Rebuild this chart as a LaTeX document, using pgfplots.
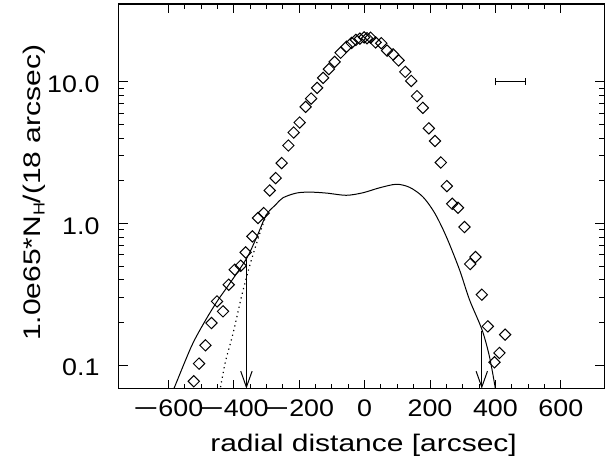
\documentclass[border=0pt]{standalone}
\usepackage{graphicx}
\usepackage{fontspec}
\setmainfont{Liberation Sans}[FakeStretch=1.12]
\newfontfamily\labfont{Liberation Sans}[FakeStretch=1.25]
\usepackage{pgfplots}
\pgfplotsset{compat=1.18}
\usetikzlibrary{arrows.meta}
\newcommand\mn{\scalebox{1.6}[1]{−}}

\begin{document}
\begin{tikzpicture}
\begin{axis}[
  scale only axis,
  width=243pt, height=192.5pt,
  ymode=log,
  xmin=-751, xmax=733,
  ymin=0.0681, ymax=35.5,
  axis line style={line width=0.6pt},
  every tick/.style={black, line width=0.5pt},
  major tick length=4.5pt,
  minor tick length=2.5pt,
  xtick={-600,-400,-200,0,200,400,600},
  xticklabels={{\mn600},{\mn400},{\mn200},0,200,400,600},
  minor x tick num=3,
  ytick={0.1,1,10},
  yticklabels={0.1,1.0,10.0},
  tick label style={font=\fontsize{12}{14}\selectfont},
  xticklabel style={anchor=base, yshift=-13.8pt},
  yticklabel style={anchor=base east, inner sep=0pt, xshift=-9.5pt, yshift=-5.3pt},
  xlabel={radial distance [arcsec]},
  ylabel={1.0e65*N$_{\mathrm{H}}$/(18 arcsec)},
  label style={font=\labfont\fontsize{12}{14}\selectfont},
  xlabel style={at={(axis description cs:0.504,-0.1626)}, anchor=base},
  ylabel style={at={(axis description cs:-0.1605,0.509)}, anchor=base},
]

% diamonds: observed profile
\addplot[only marks, mark=square, mark size=2pt,
  mark options={rotate=45, line width=0.5pt, fill=none}]
coordinates {
  (-522.1,0.0767) (-506.0,0.1023) (-486.4,0.1377) (-468.1,0.198)
  (-451.0,0.2814) (-432.7,0.2393) (-415.3,0.3693) (-396.9,0.4713)
  (-378.6,0.5029) (-363.4,0.6243) (-342.9,0.8096) (-325.8,1.092)
  (-308.4,1.184) (-290.1,1.710) (-271.8,2.091) (-253.4,2.669)
  (-233.0,3.553) (-216.8,4.387) (-198.5,5.163) (-180.2,6.662)
  (-163.4,7.625) (-145.0,9.07) (-126.7,10.67) (-109.0,12.31)
  (-91.6,13.84) (-73.3,16.07) (-55.0,17.72) (-39.7,18.85)
  (-26.6,19.79) (-14.4,20.21) (-1.5,20.61) (7.6,20.34)
  (18.3,20.51) (33.6,19.0) (51.0,18.76) (68.7,16.63)
  (87.0,15.64) (103.8,14.18) (124.3,11.77) (142.6,10.16)
  (160.3,7.93) (178.0,6.554) (196.3,4.697) (215.3,3.822)
  (233.0,2.695) (251.3,1.836) (267.8,1.377) (285.5,1.291)
  (305.3,0.943) (322.7,0.517) (338.9,0.579) (358.2,0.314)
  (376.5,0.1875) (396.9,0.1045) (412.2,0.1217) (429.6,0.1639)
};

% solid model curve
\addplot[black, line width=0.5pt, smooth, tension=0.5] coordinates {
  (-598.5,0.0561) (-583.2,0.0678) (-529.2,0.1355) (-490.0,0.200)
  (-451.0,0.281) (-415.0,0.369) (-361.2,0.5633) (-328.9,0.8096)
  (-300.2,1.152) (-271.8,1.355) (-249.5,1.518) (-208.5,1.639)
  (-167.9,1.665) (-116.9,1.639) (-55.9,1.581) (-5.2,1.647)
  (45.8,1.786) (96.8,1.891) (137.4,1.80) (178.0,1.543)
  (213.7,1.19) (249.5,0.8096) (290.1,0.4713) (320.6,0.2893)
  (358.8,0.1778) (381.7,0.1146) (400.0,0.0678) (406.1,0.0561)
};

% dotted curve
\addplot[black, line width=0.6pt, dash pattern=on 0.6pt off 1.8pt, smooth] coordinates {
  (-300.2,1.152) (-314.5,0.932) (-326.7,0.767) (-351.1,0.503)
  (-375.6,0.309) (-401.5,0.1693) (-426.0,0.1040) (-441.2,0.0681)
  (-448.8,0.057)
};

% arrows
\addplot[black, line width=0.5pt, -{Straight Barb[length=8pt, width=5.7pt, line width=0.5pt]}]
  coordinates {(-361.2,0.5633) (-361.2,0.0681)};
\addplot[black, line width=0.5pt, -{Straight Barb[length=8pt, width=5.7pt, line width=0.5pt]}]
  coordinates {(358.2,0.173) (358.2,0.0681)};

% resolution bar
\addplot[black, line width=0.5pt, {Bar[width=3.5pt]}-{Bar[width=3.5pt]}]
  coordinates {(399,10) (492,10)};

\end{axis}
\pgfresetboundingbox
\path ([shift={(-59.5pt,-39pt)}]current axis.south west) rectangle ([shift={(0.3pt,2pt)}]current axis.north east);
\end{tikzpicture}
\end{document}
